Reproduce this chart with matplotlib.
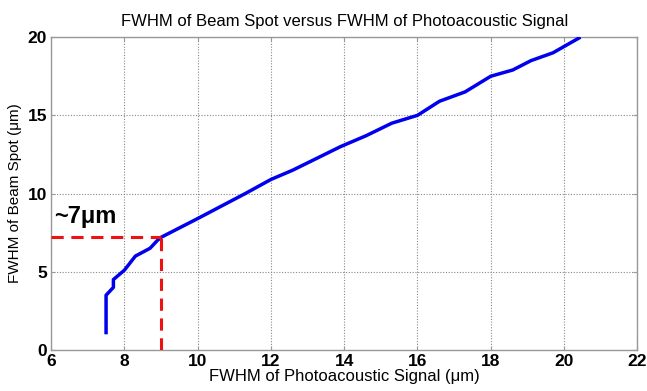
import matplotlib
matplotlib.use("Agg")
import matplotlib.pyplot as plt

plt.rcParams['font.family'] = ['Liberation Sans', 'DejaVu Sans']

x_signal = [7.5, 7.5, 7.7, 7.7, 8.0, 8.3, 8.7, 8.9, 9.0, 10.0, 11.3, 12.0, 12.6, 13.9,
            14.6, 15.3, 16.0, 16.6, 17.3, 18.0, 18.6, 19.1, 19.7, 20.45]
y_spot = [1.0, 3.5, 4.0, 4.5, 5.1, 6.0, 6.5, 7.0, 7.2, 8.4, 10.0, 10.9, 11.5, 13.0,
          13.7, 14.5, 15.0, 15.9, 16.5, 17.5, 17.9, 18.5, 19.0, 20.0]
marker_x = 9.0
marker_y = 7.2
annot_text = "~7\u03bcm"
x_ticks = [6, 8, 10, 12, 14, 16, 18, 20, 22]
y_ticks = [0, 5, 10, 15, 20]

fig = plt.figure(figsize=(6.47, 3.91), dpi=100)
ax = fig.add_axes([0.079, 0.105, 0.906, 0.800])

ax.plot(x_signal, y_spot, color='#0000ee', lw=2.5, solid_capstyle='butt', zorder=3)
ax.plot([6, marker_x], [marker_y, marker_y], color='#ee1111', lw=2.2, ls=(0, (4, 2.5)), zorder=4)
ax.plot([marker_x, marker_x], [0, marker_y], color='#ee1111', lw=2.2, ls=(0, (4, 2.5)), zorder=4)

ax.text(6.08, 8.1, annot_text, fontsize=17, fontweight='bold', ha='left', va='baseline',
        clip_on=False, zorder=5)

ax.set_xlim(6, 22)
ax.set_ylim(0, 20)
ax.set_xticks(x_ticks)
ax.set_yticks(y_ticks)
ax.grid(True, ls=(0, (1, 1.5)), color='#888888', lw=0.8)
for s in ax.spines.values():
    s.set_color('#999999')
    s.set_linewidth(1.0)
ax.tick_params(direction='in', length=3, color='#999999', top=True, right=True,
               labelsize=12.5, pad=3)
for lab in ax.get_xticklabels() + ax.get_yticklabels():
    lab.set_fontweight('bold')

ax.set_title("FWHM of Beam Spot versus FWHM of Photoacoustic Signal", fontsize=12, pad=8)
ax.set_xlabel("FWHM of Photoacoustic Signal (\u03bcm)", fontsize=12, labelpad=0)
ax.set_ylabel("FWHM of Beam Spot (\u03bcm)", fontsize=11, labelpad=4)

fig.savefig("out.png", dpi=100)
